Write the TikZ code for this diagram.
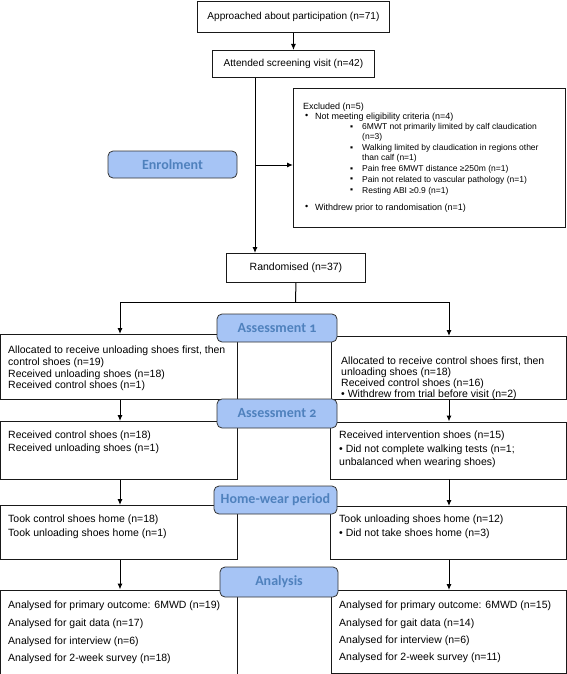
\documentclass[tikz,border=0pt]{standalone}
\usepackage{fontspec}
\setmainfont{Liberation Sans}
\newfontfamily\pillfont[Numbers=OldStyle]{Carlito}
\usetikzlibrary{arrows.meta}
\definecolor{pillfill}{RGB}{166,196,245}
\definecolor{pilltext}{RGB}{79,129,189}
\begin{document}
\begin{tikzpicture}[x=1pt,y=-1pt,
  box/.style={draw=black!90, line width=0.9pt, inner sep=0pt, anchor=north west},
  pill/.style={draw=black!80, fill=pillfill, rounded corners=5pt, line width=0.8pt,
    font=\pillfont\bfseries\fontsize{14}{14}\selectfont, text=pilltext, inner sep=0pt},
  txt/.style={inner sep=0pt, anchor=north west, align=left},
  exl/.style={inner sep=0pt, anchor=west, font=\fontsize{9}{10}\selectfont},
  exs/.style={inner sep=0pt, anchor=west, font=\fontsize{8.5}{10}\selectfont},
  arr/.style={line width=1pt, -{Latex[length=6pt,width=5pt]}},
  ln/.style={line width=1pt}]
\useasboundingbox (0,0) rectangle (567,674);

% top boxes
\node[box, minimum width=192pt, minimum height=31pt] (b1) at (197,1) {};
\node[font=\fontsize{10.1}{12}\selectfont, inner sep=0pt] (b1t) at (b1.center) {Approached about participation (n=71)};
\node[box, minimum width=162pt, minimum height=27pt] (b2) at (212,50) {};
\node[font=\fontsize{10.1}{12}\selectfont, inner sep=0pt] (b2t) at (b2.center) {Attended screening visit (n=42)};

% excluded
\node[box, minimum width=272pt, minimum height=139pt] (excl) at (293,88) {};
\node[exl] (e1) at (303,106.7) {Excluded (n=5)};
\node[exl] (e2b) at (305,116.7) {•};
\node[exl] (e2) at (315,116.7) {Not meeting eligibility criteria (n=4)};
\node[exs] (e3b) at (350,127.7) {▪};
\node[exs] (e3) at (362,127.7) {6MWT not primarily limited by calf claudication};
\node[exs] (e3c) at (362,137.7) {(n=3)};
\node[exs] (e4b) at (350,148.3) {▪};
\node[exs] (e4) at (362,148.3) {Walking limited by claudication in regions other};
\node[exs] (e4c) at (362,158.3) {than calf (n=1)};
\node[exs] (e5b) at (350,169.3) {▪};
\node[exs] (e5) at (362,169.3) {Pain free 6MWT distance ≥250m (n=1)};
\node[exs] (e6b) at (350,180) {▪};
\node[exs] (e6) at (362,180) {Pain not related to vascular pathology (n=1)};
\node[exs] (e7b) at (350,191) {▪};
\node[exs] (e7) at (362,191) {Resting ABI ≥0.9 (n=1)};
\node[exl] (e8b) at (305,207.7) {•};
\node[exl] (e8) at (315,207.7) {Withdrew prior to randomisation (n=1)};

% randomised
\node[box, minimum width=139pt, minimum height=29pt] (rand) at (226,253) {};
\node[font=\fontsize{10.5}{12}\selectfont, inner sep=0pt] (randt) at (rand.center) {Randomised (n=37)};

% left column
\node[box, minimum width=237pt, minimum height=65pt] (L1) at (0,334) {};
\node[txt, font=\fontsize{10.5}{11.7}\selectfont] (L1t) at (8,346) {Allocated to receive unloading shoes first, then\\control shoes (n=19)\\Received unloading shoes (n=18)\\Received control shoes (n=1)};
\node[box, minimum width=237pt, minimum height=58pt] (L2) at (0,421) {};
\node[txt, font=\fontsize{10.5}{13.3}\selectfont] (L2t) at (8,430.3) {Received control shoes (n=18)\\Received unloading shoes (n=1)};
\node[box, minimum width=237pt, minimum height=54pt] (L3) at (0,505) {};
\node[txt, font=\fontsize{10.5}{13.3}\selectfont] (L3t) at (8,515) {Took control shoes home (n=18)\\Took unloading shoes home (n=1)};
\node[box, minimum width=237pt, minimum height=84pt] (L4) at (0,589.5) {};
\node[txt, font=\fontsize{10.5}{17.7}\selectfont] (L4t) at (8,601) {Analysed for primary outcome: 6MWD (n=19)\\Analysed for gait data (n=17)\\Analysed for interview (n=6)\\Analysed for 2-week survey (n=18)};

% right column
\node[box, minimum width=235pt, minimum height=63pt] (R1) at (331,336) {};
\node[txt, font=\fontsize{10.5}{11}\selectfont] (R1t) at (341,357) {Allocated to receive control shoes first, then\\unloading shoes (n=18)\\Received control shoes (n=16)\\• Withdrew from trial before visit (n=2)};
\node[box, minimum width=236pt, minimum height=57pt] (R2) at (330,421.5) {};
\node[txt, font=\fontsize{10.5}{13.3}\selectfont] (R2t) at (339,431) {Received intervention shoes (n=15)\\• Did not complete walking tests (n=1;\\unbalanced when wearing shoes)};
\node[box, minimum width=236pt, minimum height=53pt] (R3) at (330,506) {};
\node[txt, font=\fontsize{10.5}{14}\selectfont] (R3t) at (339,515) {Took unloading shoes home (n=12)\\• Did not take shoes home (n=3)};
\node[box, minimum width=235pt, minimum height=83pt] (R4) at (331,590) {};
\node[txt, font=\fontsize{10.5}{17.2}\selectfont] (R4t) at (339,601) {Analysed for primary outcome: 6MWD (n=15)\\Analysed for gait data (n=14)\\Analysed for interview (n=6)\\Analysed for 2-week survey (n=11)};

% pills
\node[pill, minimum width=129pt, minimum height=27pt] (enrol) at (172.5,164.5) {Enrolment};
\node[pill, minimum width=120pt, minimum height=28pt] (as1) at (277,328) {Assessment 1};
\node[pill, minimum width=120pt, minimum height=29pt] (as2) at (277,413.5) {Assessment 2};
\node[pill, minimum width=123pt, minimum height=28pt] (home) at (275.5,500) {Home-wear period};
\node[pill, minimum width=118pt, minimum height=30pt] (anal) at (279,582) {Analysis};

% connectors
\coordinate (split) at (255,165);
\coordinate (hC) at (295.5,302);
\coordinate (hL) at (120,302);
\coordinate (hR) at (449,302);
\draw[arr] (b1.south) -- (b2.north);
\draw[arr] (b2.south -| split) -- (rand.north -| split);
\draw[arr] (split) -- (excl.west |- split);
\draw[ln] (rand.south) -- (hC);
\draw[ln] (hL) -- (hR);
\draw[arr] (hL) -- (L1.north -| hL);
\draw[arr] (hR) -- (R1.north -| hR);
\draw[arr] (L1.south -| hL) -- (L2.north -| hL);
\draw[arr] (L2.south -| hL) -- (L3.north -| hL);
\draw[arr] (L3.south -| hL) -- (L4.north -| hL);
\draw[arr] (R1.south -| hR) -- (R2.north -| hR);
\draw[arr] (R2.south -| hR) -- (R3.north -| hR);
\draw[arr] (R3.south -| hR) -- (R4.north -| hR);
\end{tikzpicture}
\end{document}
